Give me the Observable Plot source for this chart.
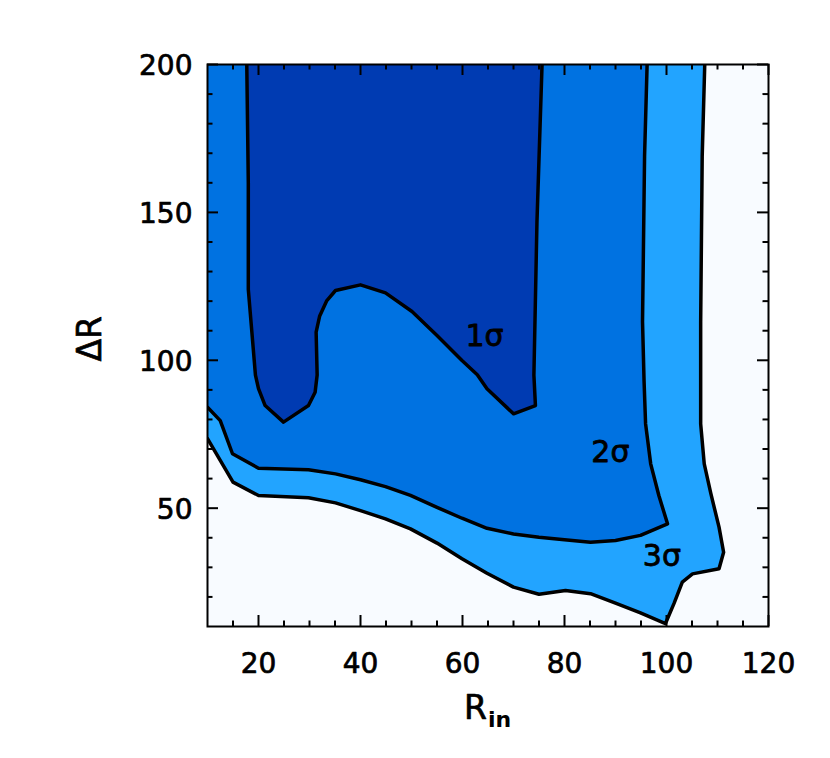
<!DOCTYPE html>
<html>
<head>
<meta charset="utf-8">
<script src="https://cdn.jsdelivr.net/npm/d3@7"></script>
<script src="https://cdn.jsdelivr.net/npm/@observablehq/plot@0.6"></script>
<style>
  html, body { margin: 0; padding: 0; background: #ffffff; }
  #chart svg { display: block; }
</style>
</head>
<body>
<div id="chart"></div>
<script>
// Axis domains
const xDomain = [10, 120];
const yDomain = [10, 200];

// Tick positions
const xMajorTicks = [20, 40, 60, 80, 100, 120];
const xMinorTicks = [15, 25, 30, 35, 45, 50, 55, 65, 70, 75, 85, 90, 95, 105, 110, 115];
const yMajorTicks = [50, 100, 150, 200];
const yMinorTicks = [20, 30, 40, 60, 70, 80, 90, 110, 120, 130, 140, 160, 170, 180, 190];

// Contour lines [R_in, ΔR]
const contour3 = [[10,73.5],[15,58.8],[20,54.3],[29.8,53.5],[35.1,51.8],[40,49.2],[44.9,46.4],[49.8,43.0],[55,38.2],[59.9,32.9],[64.8,28.0],[70,23.3],[75,20.9],[80.2,22.2],[85.1,21.1],[90,17.9],[94.9,14.6],[99.8,11.0],[101.5,17.9],[103.1,25.0],[105.1,27.8],[110.3,29.5],[111.2,35.1],[110.3,43.6],[108.7,54.9],[107.4,65],[106.7,78.5],[106.7,113],[107.0,169],[107.5,200]];
const contour2 = [[10,84.1],[12.5,79.6],[14.9,68.4],[20,63.5],[29.8,63.0],[35.1,61.6],[40,59.6],[44.9,57.3],[49.8,54.3],[55,50.3],[59.9,46.6],[64.8,43.2],[70,41.3],[75,40.2],[80,39.3],[85.1,38.5],[90,39.1],[94.9,40.8],[100.2,44.7],[98.5,54.3],[96.9,65],[95.9,78.5],[95.6,93],[95.3,113],[95.7,169],[96.2,200]];
const contour1 = [[17.7,200],[18,160],[18,124],[18.7,109.5],[19.4,95],[20,90.4],[21.3,84.7],[24.9,79.1],[29.8,84.7],[31.1,89.2],[31.5,95],[31.3,109.5],[32,115],[33.4,120.2],[35.1,123.6],[40,125.5],[44.9,122.8],[50.1,116.5],[55,108.4],[59.9,99.9],[62.9,95.1],[64.8,90.4],[70,81.9],[74.3,84.7],[74,95],[74.6,146.7],[75.6,200]];

// Contour labels
const sigmaLabels = ["1σ", "2σ", "3σ"];
const sigmaX = [64.3, 89.0, 99.1];
const sigmaY = [108, 68.7, 33.8];

// Colours
const colBackground = "#f8fbff";
const col3 = "#22a4ff";
const col2 = "#0072e1";
const col1 = "#003bb2";

const corner = [xDomain[0], yDomain[1]];
const poly3 = [...contour3, corner];
const poly2 = [...contour2, corner];
const poly1 = contour1;

const labels = sigmaLabels.map((t, i) => ({t, x: sigmaX[i], y: sigmaY[i]}));

const W = 830, H = 758;
const mTop = 64, mBottom = 132, mLeft = 207, mRight = 62;
const frameH = H - mTop - mBottom;
const frameW = W - mLeft - mRight;
const majorLen = 11, minorLen = 5.5;

const px = d => d[0], py = d => d[1];
const id = d => d;
const font = "DejaVu Sans";

const plot = Plot.plot({
  width: W,
  height: H,
  marginTop: mTop,
  marginBottom: mBottom,
  marginLeft: mLeft,
  marginRight: mRight,
  style: {fontFamily: font, fontSize: "28px", color: "black", background: "white"},
  x: {domain: xDomain, label: null, axis: null},
  y: {domain: yDomain, label: null, axis: null},
  marks: [
    Plot.frame({fill: colBackground, stroke: null}),
    Plot.line(poly3, {x: px, y: py, fill: col3, stroke: null, clip: "frame"}),
    Plot.line(poly2, {x: px, y: py, fill: col2, stroke: null, clip: "frame"}),
    Plot.line(poly1, {x: px, y: py, fill: col1, stroke: null, clip: "frame"}),
    Plot.line(contour3, {x: px, y: py, stroke: "black", strokeWidth: 3.5, clip: "frame"}),
    Plot.line(contour2, {x: px, y: py, stroke: "black", strokeWidth: 3.5, clip: "frame"}),
    Plot.line(contour1, {x: px, y: py, stroke: "black", strokeWidth: 3.5, clip: "frame"}),
    Plot.text(labels, {x: "x", y: "y", text: "t", fontSize: 30, fill: "black", stroke: "black", strokeWidth: 0.8, fontFamily: font}),
    // inward ticks: bottom & top
    Plot.tickX(xMajorTicks, {x: id, insetTop: frameH - majorLen, stroke: "black", strokeWidth: 2}),
    Plot.tickX(xMinorTicks, {x: id, insetTop: frameH - minorLen, stroke: "black", strokeWidth: 2}),
    Plot.tickX(xMajorTicks, {x: id, insetBottom: frameH - majorLen, stroke: "black", strokeWidth: 2}),
    Plot.tickX(xMinorTicks, {x: id, insetBottom: frameH - minorLen, stroke: "black", strokeWidth: 2}),
    // inward ticks: left & right
    Plot.tickY(yMajorTicks, {y: id, insetRight: frameW - majorLen, stroke: "black", strokeWidth: 2}),
    Plot.tickY(yMinorTicks, {y: id, insetRight: frameW - minorLen, stroke: "black", strokeWidth: 2}),
    Plot.tickY(yMajorTicks, {y: id, insetLeft: frameW - majorLen, stroke: "black", strokeWidth: 2}),
    Plot.tickY(yMinorTicks, {y: id, insetLeft: frameW - minorLen, stroke: "black", strokeWidth: 2}),
    // tick labels
    Plot.text(xMajorTicks, {x: id, text: d => String(d), frameAnchor: "bottom", dy: 38, fontSize: 28, lineAnchor: "middle", fill: "black", stroke: "black", strokeWidth: 0.7}),
    Plot.text(yMajorTicks, {y: id, text: d => String(d), frameAnchor: "left", dx: -15, dy: 2, textAnchor: "end", fontSize: 28, lineAnchor: "middle", fill: "black", stroke: "black", strokeWidth: 0.7}),
    Plot.frame({stroke: "black", strokeWidth: 2}),
    // axis titles
    Plot.text(["ΔR"], {frameAnchor: "left", dx: -117, dy: 16, rotate: -90, fontSize: 33, fill: "black", stroke: "black", strokeWidth: 0.7}),
    Plot.text(["R"], {frameAnchor: "bottom", dx: -24, dy: 82, textAnchor: "start", lineAnchor: "middle", fontSize: 33, fill: "black", stroke: "black", strokeWidth: 0.7}),
    Plot.text(["in"], {frameAnchor: "bottom", dx: 0, dy: 93, textAnchor: "start", lineAnchor: "middle", fontSize: 22, fontWeight: "bold", fill: "black"})
  ]
});

document.getElementById("chart").appendChild(plot);
</script>
</body>
</html>
